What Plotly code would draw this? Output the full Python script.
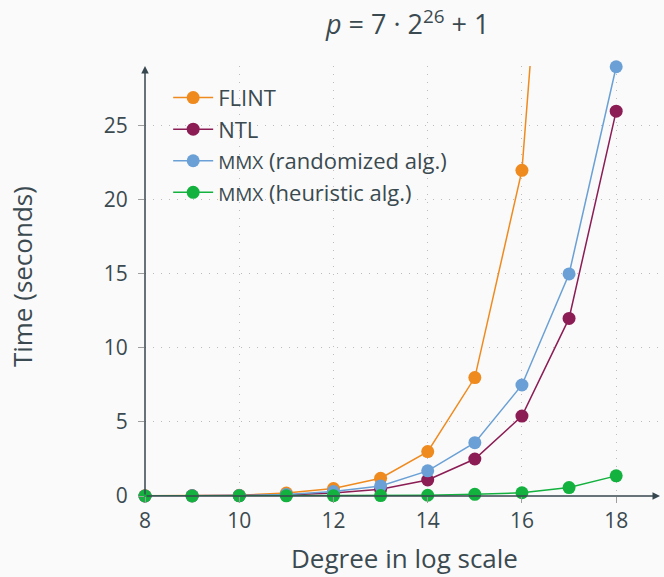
import plotly.graph_objects as go

degrees = [8, 9, 10, 11, 12, 13, 14, 15, 16, 17, 18]
flint = [0.01, 0.02, 0.05, 0.2, 0.5, 1.2, 3.0, 8.0, 22.0, 63.0]
ntl = [0.0, 0.01, 0.02, 0.06, 0.2, 0.45, 1.08, 2.5, 5.4, 12.0, 26.0]
mmx_rand = [0.0, 0.01, 0.03, 0.1, 0.3, 0.68, 1.7, 3.6, 7.5, 15.0, 29.0]
mmx_heur = [0.0, 0.0, 0.01, 0.01, 0.02, 0.03, 0.05, 0.11, 0.22, 0.57, 1.36]

names = ["FLINT", "NTL",
         "<span style='font-size:19px'>MMX</span> (randomized alg.)",
         "<span style='font-size:19px'>MMX</span> (heuristic alg.)"]
series = [flint, ntl, mmx_rand, mmx_heur]
colors = ["#ef8a1f", "#8b1c54", "#6aa0d5", "#13b13e"]

x_ticks = [8, 10, 12, 14, 16, 18]
y_ticks = [0, 5, 10, 15, 20, 25]

TXT = "#3b4a50"
FONT = "Open Sans, Noto Sans, sans-serif"

fig = go.Figure()
for name, ys, c in zip(names, series, colors):
    fig.add_trace(go.Scatter(
        x=degrees[:len(ys)], y=ys, name=name, mode="lines+markers",
        line=dict(color=c, width=1.5),
        marker=dict(color=c, size=13),
        cliponaxis=False,
    ))

XMAX = 18.93
YMAX = 29.05

fig.add_annotation(x=8, y=YMAX, ax=8, ay=0, xref="x", yref="y", axref="x", ayref="y",
                   showarrow=True, arrowhead=2, arrowsize=1, arrowwidth=1.5,
                   arrowcolor="#37474f", text="")
fig.add_annotation(x=XMAX, y=0, ax=8, ay=0, xref="x", yref="y", axref="x", ayref="y",
                   showarrow=True, arrowhead=2, arrowsize=1, arrowwidth=1.5,
                   arrowcolor="#37474f", text="")

# axis titles
fig.add_annotation(text="Time (seconds)", xref="paper", yref="paper",
                   x=-0.24, y=0.51, xanchor="center", yanchor="middle",
                   textangle=-90, showarrow=False, font=dict(size=26, color=TXT))
fig.add_annotation(text="Degree in log scale", xref="paper", yref="paper",
                   x=0.503, y=-0.145, xanchor="center", yanchor="middle",
                   showarrow=False, font=dict(size=26, color=TXT))

grid = dict(showgrid=True, gridcolor="#bdbdbd", griddash="1px,7px", gridwidth=1,
            zeroline=False, showline=False, ticks="outside", ticklen=6,
            tickcolor="#9e9e9e", tickfont=dict(size=21, color=TXT), automargin=False)

fig.update_layout(
    width=664, height=577,
    margin=dict(l=145, r=4, t=66, b=81),
    paper_bgcolor="#fafafa", plot_bgcolor="#fafafa",
    font=dict(family=FONT, color=TXT, size=18),
    title=dict(text="<i>p</i> = 7 · 2<sup>26</sup> + 1", x=0.614, xanchor="center",
               y=0.957, yanchor="middle", font=dict(size=27, color=TXT)),
    showlegend=True,
    legend=dict(x=0.045, y=0.975, xanchor="left", yanchor="top",
                bgcolor="rgba(0,0,0,0)", font=dict(size=22, color=TXT),
                itemwidth=40),
    xaxis=dict(range=[8, XMAX], tickvals=x_ticks, **grid),
    yaxis=dict(range=[0, YMAX], tickvals=y_ticks, ticklabelstandoff=6, **grid),
)

fig.write_html("out.html", config={"displayModeBar": False},
               post_script="document.body.style.margin='0';")
